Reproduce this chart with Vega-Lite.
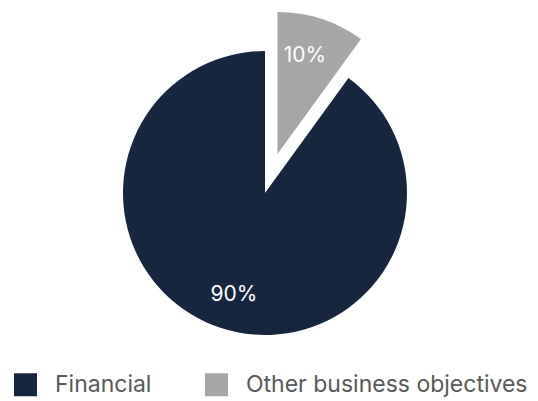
{
  "$schema": "https://vega.github.io/schema/vega-lite/v6.json",
  "width": 530,
  "height": 386,
  "autosize": "none",
  "padding": {"left": 0, "top": 0, "right": 8, "bottom": 15},
  "background": "white",
  "config": {"view": {"stroke": null}, "font": "Inter"},
  "data": {
    "values": [
      {"category": "Other business objectives", "value": 10, "label": "10%", "order": 1},
      {"category": "Financial", "value": 90, "label": "90%", "order": 2}
    ]
  },
  "encoding": {
    "theta": {"field": "value", "type": "quantitative", "stack": true},
    "order": {"field": "order", "type": "quantitative"},
    "color": {
      "field": "category",
      "type": "nominal",
      "scale": {"domain": ["Financial", "Other business objectives"], "range": ["#16263f", "#a6a6a6"]},
      "legend": {
        "title": null,
        "orient": "none",
        "direction": "horizontal",
        "legendX": 14,
        "legendY": 373,
        "symbolType": "square",
        "symbolSize": 529,
        "symbolStrokeWidth": 0,
        "labelFontSize": 23,
        "labelColor": "#595959",
        "labelFont": "Inter",
        "labelOffset": 18,
        "columnPadding": 53,
        "labelLimit": 400
      }
    }
  },
  "layer": [
    {
      "mark": {"type": "arc", "outerRadius": 142},
      "encoding": {
        "fillOpacity": {"condition": {"test": "datum.category === 'Other business objectives'", "value": 0}, "value": 1}
      }
    },
    {
      "mark": {"type": "arc", "outerRadius": 142, "xOffset": 12.5, "yOffset": -39},
      "encoding": {
        "fillOpacity": {"condition": {"test": "datum.category === 'Financial'", "value": 0}, "value": 1}
      }
    },
    {
      "mark": {"type": "text", "radius": 107, "fontSize": 21, "font": "Inter", "xOffset": 2},
      "encoding": {
        "text": {"field": "label"},
        "color": {"value": "white"},
        "opacity": {"condition": {"test": "datum.category === 'Other business objectives'", "value": 0}, "value": 1}
      }
    },
    {
      "mark": {"type": "text", "radius": 103, "fontSize": 21, "xOffset": 8, "yOffset": -39, "font": "Inter"},
      "encoding": {
        "text": {"field": "label"},
        "color": {"value": "white"},
        "opacity": {"condition": {"test": "datum.category === 'Financial'", "value": 0}, "value": 1}
      }
    }
  ]
}
